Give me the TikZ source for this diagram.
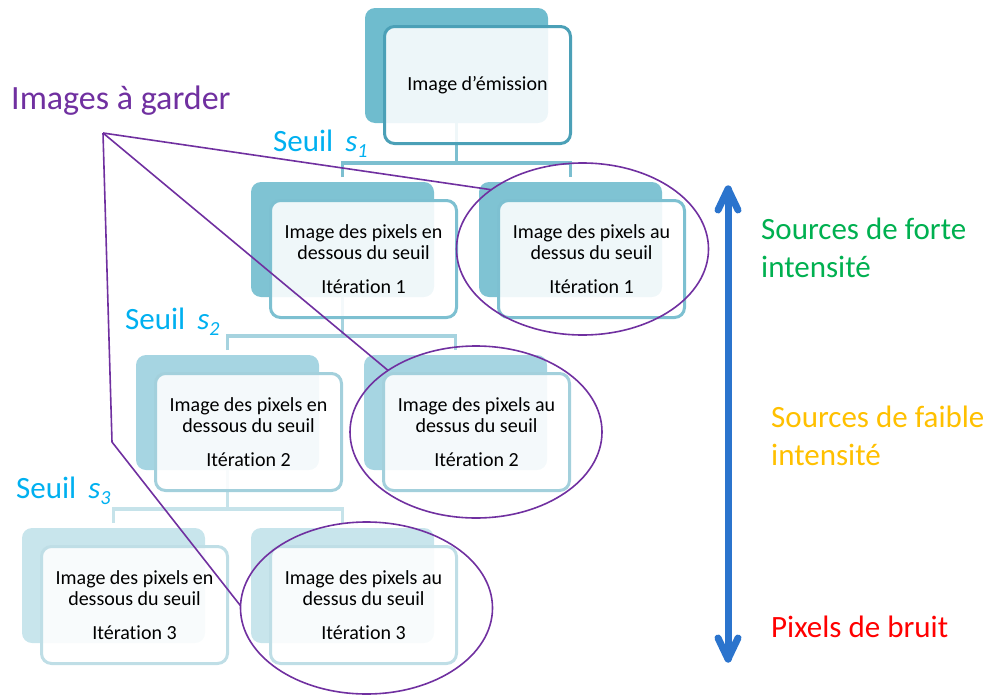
\documentclass[tikz,border=0pt]{standalone}
\usepackage{fontspec}
\setmainfont{Carlito}[Ligatures=NoCommon]
\usetikzlibrary{calc,shapes.geometric}
\definecolor{back0}{HTML}{6FBCCE}
\definecolor{back1}{HTML}{7FC3D3}
\definecolor{back2}{HTML}{A6D5E2}
\definecolor{back3}{HTML}{C8E5EC}
\definecolor{bord0}{HTML}{4BA0B7}
\definecolor{bord1}{HTML}{7DC0D1}
\definecolor{bord2}{HTML}{A3D0DC}
\definecolor{bord3}{HTML}{BFDEE6}
\definecolor{conn0}{HTML}{7CBFD0}
\definecolor{conn1}{HTML}{A6D3DF}
\definecolor{conn2}{HTML}{C6E3EA}
\definecolor{purp}{HTML}{7030A0}
\definecolor{seuilc}{HTML}{00B0F0}
\definecolor{greenc}{HTML}{00B050}
\definecolor{orangec}{HTML}{FFC000}
\definecolor{redc}{HTML}{FF0000}
\definecolor{arrowc}{HTML}{2B74CD}
\newcommand{\mkback}[4]{\node[backbox, fill=#4] (#1) at (#2,#3) {};}
\newcommand{\mkfront}[5]{\node[frontbox, draw=#4] (#1) at ({#2+19.5},{#3+18.5}) {#5};}
\newcommand{\txtL}[1]{Image des pixels en\\dessous du seuil\\[13pt]Itération #1}
\newcommand{\txtR}[1]{Image des pixels au\\dessus du seuil\\[13pt]Itération #1}
\newcommand{\seuiltxt}[1]{Seuil\hspace{12pt}\textit{s}\raisebox{-6pt}{\fontsize{20}{20}\selectfont\textit{#1}}}
\tikzset{
  backbox/.style={rectangle, rounded corners=10pt, minimum width=183pt, minimum height=115pt, inner sep=0pt, outer sep=0pt, anchor=north west, draw=none},
  frontbox/.style={rectangle, rounded corners=10pt, minimum width=186pt, minimum height=117pt, inner sep=0pt, outer sep=0pt, anchor=north west, fill=white, fill opacity=0.88, text opacity=1, line width=3pt, align=center, font=\fontsize{20}{21}\selectfont},
  conn/.style={line width=3.5pt},
  keepell/.style={ellipse, draw=purp, line width=1.6pt, minimum width=252pt, minimum height=172pt, inner sep=0pt, outer sep=0pt},
  purpline/.style={draw=purp, line width=1.6pt, line join=round},
  seuillab/.style={anchor=base west, inner sep=0pt, text=seuilc, font=\fontsize{31}{31}\selectfont},
  sidelab/.style={anchor=base west, inner sep=0pt, align=left, font=\fontsize{31}{38}\selectfont},
  arrowline/.style={draw=arrowc, line width=7pt, line cap=round, line join=round}
}
\begin{document}
\begin{tikzpicture}[x=1pt,y=-1pt]
\useasboundingbox (0,0) rectangle (990,696);
% back boxes
\mkback{topb}{365}{8}{back0}
\mkback{r1Lb}{251}{182}{back1}
\mkback{r1Rb}{479}{182}{back1}
\mkback{r2Lb}{136}{355}{back2}
\mkback{r2Rb}{364}{355}{back2}
\mkback{r3Lb}{22}{528}{back3}
\mkback{r3Rb}{251}{528}{back3}
% connectors
\draw[conn, draw=conn0] (topb.south) -- ++(0,40);
\draw[conn, draw=conn0] ($(r1Lb.north)+(0,-5)$) -- ++(0,-14) -| ($(r1Rb.north)+(0,-5)$);
\draw[conn, draw=conn1] (r1Lb.south) -- ++(0,40);
\draw[conn, draw=conn1] ($(r2Lb.north)+(0,-5)$) -- ++(0,-14) -| ($(r2Rb.north)+(0,-5)$);
\draw[conn, draw=conn2] (r2Lb.south) -- ++(0,40);
\draw[conn, draw=conn2] ($(r3Lb.north)+(0,-5)$) -- ++(0,-14) -| ($(r3Rb.north)+(0,-5)$);
% front boxes
\mkfront{top}{365}{8}{bord0}{Image d’émission}
\mkfront{r1L}{251}{182}{bord1}{\txtL{1}}
\mkfront{r1R}{479}{182}{bord1}{\txtR{1}}
\mkfront{r2L}{136}{355}{bord2}{\txtL{2}}
\mkfront{r2R}{364}{355}{bord2}{\txtR{2}}
\mkfront{r3L}{22}{528}{bord3}{\txtL{3}}
\mkfront{r3R}{251}{528}{bord3}{\txtR{3}}
% seuil labels
\node[seuillab] (s1) at (273,151) {\seuiltxt{1}};
\node[seuillab] (s2) at (125,329) {\seuiltxt{2}};
\node[seuillab] (s3) at (16,498) {\seuiltxt{3}};
% images a garder
\node[anchor=base west, inner sep=0pt, text=purp, font=\fontsize{34}{34}\selectfont] (keep) at (11,109) {Images à garder};
\node[keepell] (e1) at (582.5,249) {};
\node[keepell] (e2) at (476,432) {};
\node[keepell] (e3) at (366.5,608) {};
\coordinate (P) at (103,133);
\coordinate (Q) at (112,442);
\draw[purpline] (P) -- (e1.147);
\draw[purpline] (P) -- (e2.145);
\draw[purpline] (P) -- (Q) -- (e3.179);
% intensity arrow
\coordinate (atop) at (728,189);
\coordinate (abot) at (728,659);
\draw[arrowline] (atop) -- (abot);
\draw[arrowline] ($(atop)+(-10,21)$) -- (atop) -- ($(atop)+(10,21)$);
\draw[arrowline] ($(abot)+(-10,-21)$) -- (abot) -- ($(abot)+(10,-21)$);
% side labels (base anchor = last line)
\node[sidelab, text=greenc] (forte) at (761,277) {Sources de forte\\intensité};
\node[sidelab, text=orangec] (faible) at (771,465) {Sources de faible\\intensité};
\node[sidelab, text=redc] (bruit) at (771,637) {Pixels de bruit};
\end{tikzpicture}
\end{document}
